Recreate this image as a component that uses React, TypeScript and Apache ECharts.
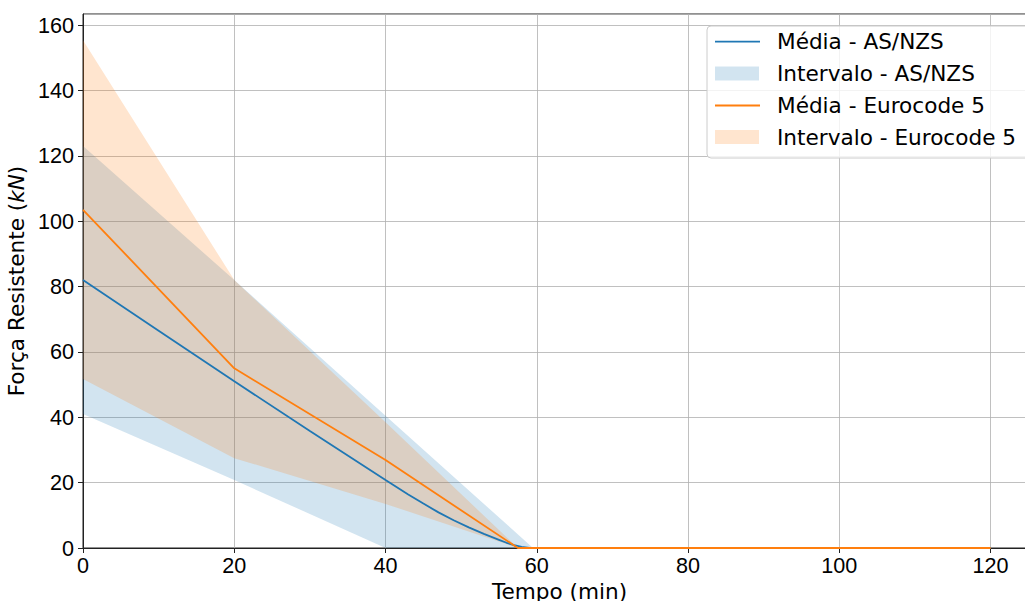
import React, { useEffect, useRef } from "react";
import * as echarts from "echarts";

// Média (mean) curves: [tempo (min), força (kN)]
const asnzsMean: [number, number][] = [
  [0, 82], [10, 66.5], [20, 51], [30, 35.8], [40, 20.8], [43, 16.4], [45, 13.6], [47, 10.9], [49, 8.5],
  [51, 6.3], [53, 4.3], [54, 3.4], [55, 2.5], [56, 1.6], [57, 0.9], [58, 0.35], [59, 0.05], [60, 0], [120, 0],
];
const eurocodeMean: [number, number][] = [
  [0, 103.5], [20, 55], [40, 26.9], [57.5, 0], [120, 0],
];
// Intervalo (band) limits
const asnzsUpper: [number, number][] = [[0, 123], [20, 82], [40, 40.5], [59.5, 0], [120, 0]];
const asnzsLower: [number, number][] = [[0, 41], [20, 20.8], [40, 0], [120, 0]];
const eurocodeUpper: [number, number][] = [[0, 155.4], [20, 82], [40, 38.5], [57.5, 0], [120, 0]];
const eurocodeLower: [number, number][] = [[0, 51.7], [20, 27.5], [40, 13.5], [57.5, 0], [120, 0]];

const legendLabels = ["Média - AS/NZS", "Intervalo - AS/NZS", "Média - Eurocode 5", "Intervalo - Eurocode 5"];

const BLUE = "#1f77b4";
const ORANGE = "#ff7f0e";
const BLUE_FILL = "rgba(31,119,180,0.2)";
const ORANGE_FILL = "rgba(255,127,14,0.2)";
const FS = 21.6;

function band(name: string, upper: [number, number][], lower: [number, number][], fill: string) {
  return {
    name,
    type: "custom",
    silent: true,
    data: [[0, 0]],
    renderItem: (_params: any, api: any) => {
      const pts = upper.map((p) => api.coord(p)).concat(lower.slice().reverse().map((p) => api.coord(p)));
      return { type: "polygon", shape: { points: pts }, style: { fill } };
    },
  };
}

export default function App() {
  const ref = useRef<HTMLDivElement>(null);
  useEffect(() => {
    const chart = echarts.init(ref.current!, null, { renderer: "svg" });
    const rowY = [41.7, 73.5, 105.5, 137];
    const legendItems: any[] = [
      {
        type: "rect",
        shape: { x: 707, y: 26, width: 322, height: 132, r: 4 },
        style: { fill: "rgba(255,255,255,0.8)", stroke: "#cccccc", lineWidth: 1 },
      },
    ];
    legendLabels.forEach((label, i) => {
      const color = i < 2 ? BLUE : ORANGE;
      const fill = i < 2 ? BLUE_FILL : ORANGE_FILL;
      if (i % 2 === 0) {
        legendItems.push({
          type: "line",
          shape: { x1: 715, y1: rowY[i], x2: 760, y2: rowY[i] },
          style: { stroke: color, lineWidth: 1.8 },
        });
      } else {
        legendItems.push({
          type: "rect",
          shape: { x: 715, y: rowY[i] - 7, width: 44, height: 14 },
          style: { fill },
        });
      }
      legendItems.push({
        type: "text",
        x: 777,
        y: rowY[i],
        style: {
          text: label,
          font: `${FS}px 'DejaVu Sans'`,
          fill: "#000",
          verticalAlign: "middle",
          align: "left",
        },
      });
    });

    chart.setOption({
      animation: false,
      backgroundColor: "#fff",
      grid: {
        left: 83,
        top: 14,
        width: 953,
        height: 534,
        containLabel: false,
        outerBoundsMode: "none",
        show: true,
        borderColor: "#222",
        borderWidth: 1,
        backgroundColor: "transparent",
      },
      xAxis: {
        type: "value",
        min: 0,
        max: 126,
        interval: 20,
        name: "Tempo (min)",
        nameLocation: "middle",
        nameGap: 30,
        nameTextStyle: { fontFamily: "DejaVu Sans", fontSize: FS, color: "#000" },
        axisLine: { show: true, lineStyle: { color: "#222", width: 1 } },
        axisTick: { show: true, length: 5, lineStyle: { color: "#222" } },
        axisLabel: {
          showMaxLabel: false,
          margin: 6,
          fontFamily: "Liberation Sans",
          fontSize: FS,
          color: "#000",
        },
        splitLine: { show: true, lineStyle: { color: "#b0b0b0", width: 0.8 } },
      },
      yAxis: {
        type: "value",
        min: 0,
        max: 163.4,
        interval: 20,
        name: "{n|Força Resistente (}{i|kN}{n|)}",
        nameLocation: "middle",
        nameGap: 51,
        nameRotate: 90,
        nameTextStyle: {
          rich: {
            n: { fontFamily: "DejaVu Sans", fontSize: FS, color: "#000" },
            i: { fontFamily: "DejaVu Sans", fontSize: FS, fontStyle: "italic", color: "#000" },
          },
        },
        axisLine: { show: true, lineStyle: { color: "#222", width: 1 } },
        axisTick: { show: true, length: 5, lineStyle: { color: "#222" } },
        axisLabel: {
          showMaxLabel: false,
          margin: 9,
          fontFamily: "Liberation Sans",
          fontSize: FS,
          color: "#000",
        },
        splitLine: { show: true, lineStyle: { color: "#b0b0b0", width: 0.8 } },
      },
      series: [
        {
          name: legendLabels[0],
          type: "line",
          data: asnzsMean,
          showSymbol: false,
          lineStyle: { color: BLUE, width: 1.8 },
          itemStyle: { color: BLUE },
          silent: true,
        },
        band(legendLabels[1], asnzsUpper, asnzsLower, BLUE_FILL),
        {
          name: legendLabels[2],
          type: "line",
          data: eurocodeMean,
          showSymbol: false,
          lineStyle: { color: ORANGE, width: 1.8 },
          itemStyle: { color: ORANGE },
          silent: true,
        },
        band(legendLabels[3], eurocodeUpper, eurocodeLower, ORANGE_FILL),
      ],
      graphic: { elements: legendItems.map((e) => ({ ...e, z: 100 })) },
    });
    return () => chart.dispose();
  }, []);
  return (
    <div
      ref={ref}
      style={{ position: "fixed", left: 0, top: 0, width: 1025, height: 601 }}
    />
  );
}
